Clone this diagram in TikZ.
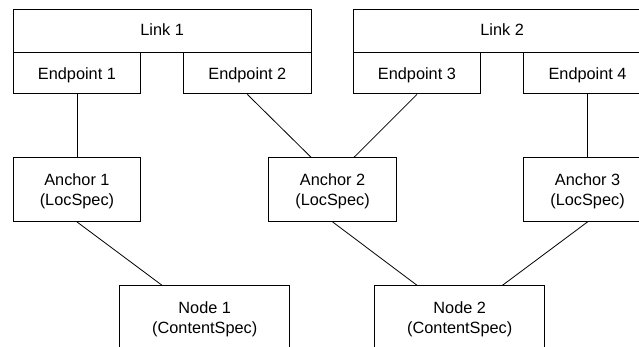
\documentclass[tikz,border=0pt]{standalone}
\usepackage{fontspec}
\setmainfont{Liberation Sans}
\usetikzlibrary{calc}

\tikzset{
  box/.style={draw=black, line width=0.9pt, rectangle, inner sep=0pt,
    anchor=north west},
  linkbox/.style={box, minimum width=298pt, minimum height=42.4pt},
  epbox/.style={box, minimum width=127.6pt, minimum height=41.8pt},
  anchorbox/.style={box, minimum width=127.6pt, minimum height=63.7pt},
  nodebox/.style={box, minimum width=170pt, minimum height=63.7pt},
  txt/.style={inner sep=0pt, anchor=base, font=\fontsize{16.3}{20}\selectfont},
  wire/.style={draw=black, line width=0.8pt}
}

\begin{document}
\begin{tikzpicture}[x=1pt,y=-1pt]
  \useasboundingbox (0,0) rectangle (639,347);
  \fill[white] (0,0) rectangle (639,347);
  \clip (0,0) rectangle (639,347);

  % links and their endpoints
  \node[linkbox] (link1) at (12.7,9.3) {};
  \node[epbox] (ep1) at (12.7,51.7) {};
  \node[epbox] (ep2) at (183.1,51.7) {};
  \node[linkbox] (link2) at (352.7,9.3) {};
  \node[epbox] (ep3) at (352.7,51.7) {};
  \node[epbox] (ep4) at (523.3,51.7) {};

  % anchors
  \node[anchorbox] (a1) at (12.7,157.3) {};
  \node[anchorbox] (a2) at (268.3,157.3) {};
  \node[anchorbox] (a3) at (523.3,157.3) {};

  % content nodes
  \node[nodebox] (n1) at (119.3,285.3) {};
  \node[nodebox] (n2) at (374.3,285.3) {};

  % labels, set on their baselines
  \node[txt] (link1t) at (link1.north |- 0,36) {Link 1};
  \node[txt] (link2t) at (link2.north |- 0,36) {Link 2};
  \node[txt] (ep1t) at (ep1.north |- 0,79.3) {Endpoint 1};
  \node[txt] (ep2t) at (ep2.north |- 0,79.3) {Endpoint 2};
  \node[txt] (ep3t) at (ep3.north |- 0,79.3) {Endpoint 3};
  \node[txt] (ep4t) at (ep4.north |- 0,79.3) {Endpoint 4};
  \node[txt] (a1t) at (a1.north |- 0,185.8) {Anchor 1};
  \node[txt] (a1s) at (a1.north |- 0,206) {(LocSpec)};
  \node[txt] (a2t) at (a2.north |- 0,185.8) {Anchor 2};
  \node[txt] (a2s) at (a2.north |- 0,206) {(LocSpec)};
  \node[txt] (a3t) at (a3.north |- 0,185.8) {Anchor 3};
  \node[txt] (a3s) at (a3.north |- 0,206) {(LocSpec)};
  \node[txt] (n1t) at (n1.north |- 0,313.3) {Node 1};
  \node[txt] (n1s) at (n1.north |- 0,333.5) {(ContentSpec)};
  \node[txt] (n2t) at (n2.north |- 0,313.3) {Node 2};
  \node[txt] (n2s) at (n2.north |- 0,333.5) {(ContentSpec)};

  % endpoint -> anchor
  \draw[wire] (ep1.south) -- (a1.north);
  \draw[wire] (ep2.south) -- ($(a2.north west)!0.333!(a2.north east)$);
  \draw[wire] (ep3.south) -- ($(a2.north west)!0.667!(a2.north east)$);
  \draw[wire] (ep4.south) -- (a3.north);

  % anchor -> node
  \draw[wire] (a1.south) -- ($(n1.north west)!0.25!(n1.north east)$);
  \draw[wire] (a2.south) -- ($(n2.north west)!0.25!(n2.north east)$);
  \draw[wire] (a3.south) -- ($(n2.north west)!0.75!(n2.north east)$);
\end{tikzpicture}
\end{document}
